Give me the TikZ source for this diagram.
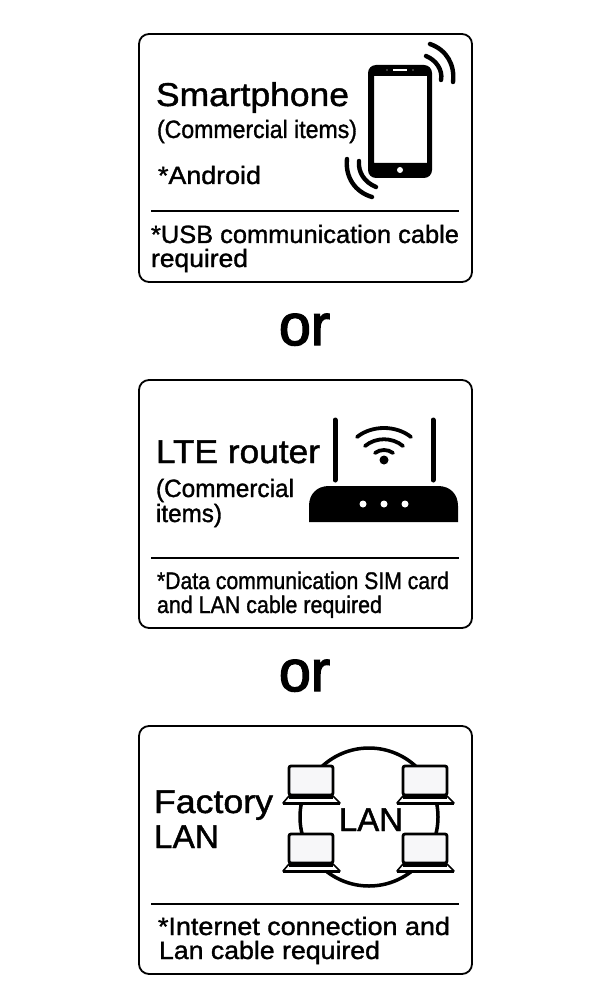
\documentclass[tikz,border=0pt]{standalone}
\usepackage{fontspec}
\usepackage{graphicx}
\setmainfont{Liberation Sans}[FakeBold=1.3]
\newfontfamily\orfont{Liberation Sans}[FakeBold=2.5]
\newcommand{\fitlabel}[2]{\resizebox{#1pt}{\height}{#2}}
\tikzset{
  panel/.style={draw, line width=1.8pt, rounded corners=10pt},
  rule/.style={line width=1.5pt},
  txt/.style={inner sep=0pt, outer sep=0pt, anchor=base west},
  big/.style={txt, font=\fontsize{33}{33}\selectfont},
  mid/.style={txt, font=\fontsize{25}{25}\selectfont},
  small/.style={txt, font=\fontsize{24}{24}\selectfont},
  wave/.style={line width=4.4pt, line cap=round},
  laptop/.pic={
    \draw[line width=2.8pt, fill=blue!20!black!3, rounded corners=2pt] (0,0) rectangle (44,29);
    \draw[line width=1.6pt, fill=white, line join=round] (0,30) -- (44,30) -- (51,37) -- (-6,37) -- cycle;
    \fill (-6,35.5) rectangle (51,38.5);
    \draw[line width=1.8pt] (0,32) -- (44,32);
  }
}
\begin{document}
\begin{tikzpicture}[x=1pt,y=-1pt]
  \useasboundingbox (0,0) rectangle (600,1008);
  % panels
  \draw[panel] (139,34) rectangle (472,282);
  \draw[panel] (139,380) rectangle (472,628);
  \draw[panel] (139,726) rectangle (472,974);
  \draw[rule] (151,211) -- (459,211);
  \draw[rule] (151,558) -- (459,558);
  \draw[rule] (151,904) -- (459,904);
  % smartphone
  \node[big] (phone) at (156,106) {\fitlabel{193}{Smartphone}};
  \node[mid] (phonenote) at (157,138) {\fitlabel{200}{(Commercial items)}};
  \node[mid] (android) at (158,184) {\fitlabel{103}{*Android}};
  \node[mid] (usb) at (151,243) {\fitlabel{308}{*USB communication cable}};
  \node[mid] (usbreq) at (151,267) {\fitlabel{97}{required}};
  \fill[rounded corners=8pt, even odd rule] (368,65) rectangle (432,178)
    [sharp corners] (374,76) rectangle (427,163);
  \fill[white] (400,170) circle (3);
  \draw[white, line width=1.2pt] (393,70) -- (407,70);
  \fill[white] (387,70) circle (0.7) (413,70) circle (0.7);
  \draw[wave] (430,44) .. controls (447,50) and (455,65) .. (453,82);
  \draw[wave] (426,56) .. controls (436,60) and (443,70) .. (441,80);
  \draw[wave] (347,159) .. controls (345,177) and (355,192) .. (372,197);
  \draw[wave] (359,161) .. controls (358,172) and (364,182) .. (376,187);
  % or
  \node[txt, font=\orfont\fontsize{58}{58}\selectfont] (orone) at (279,345) {\fitlabel{51}{or}};
  \node[txt, font=\orfont\fontsize{58}{58}\selectfont] (ortwo) at (279,691) {\fitlabel{51}{or}};
  % router
  \node[big] (router) at (156,463) {\fitlabel{164}{LTE router}};
  \node[mid] (routernote) at (156,497) {\fitlabel{138}{(Commercial}};
  \node[mid] (routeritems) at (156,522) {\fitlabel{66}{items)}};
  \node[small] (sim) at (157,589) {\fitlabel{292}{*Data communication SIM card}};
  \node[small] (lancable) at (157,613) {\fitlabel{225}{and LAN cable required}};
  \fill (309,522) -- (309,506) .. controls (309,494) and (317,486) .. (329,486)
    -- (438,486) .. controls (450,486) and (458,494) .. (458,506) -- (458,522) -- cycle;
  \draw[line width=5pt, line cap=round] (335,420) -- (335,480);
  \draw[line width=5pt, line cap=round] (433,420) -- (433,480);
  \fill[white] (363,504) circle (3.5) (384,504) circle (3.5) (405,504) circle (3.5);
  \fill (384,460) circle (4.5);
  \draw[wave, line width=3.8pt] (357,437) .. controls (372,425) and (396,425) .. (411,437);
  \draw[wave, line width=3.8pt] (365,446) .. controls (376,437) and (392,437) .. (403,446);
  \draw[wave, line width=3.8pt] (375,453) .. controls (380,449) and (388,449) .. (393,453);
  % factory lan
  \node[big] (factory) at (154,813) {\fitlabel{119}{Factory}};
  \node[big] (lan) at (154,848) {\fitlabel{65}{LAN}};
  \node[mid] (inet) at (158,935) {\fitlabel{292}{*Internet connection and}};
  \node[mid] (lanreq) at (159,959) {\fitlabel{221}{Lan cable required}};
  \draw[line width=3.5pt] (369,817) circle (69);
  \foreach \dx/\dy in {0/0,114/0,0/68,114/68}
    \pic at (289+\dx,766+\dy) {laptop};
  \node[big, font=\fontsize{33}{33}\selectfont, fill=white, inner sep=1pt] (ring) at (338,831) {\fitlabel{64}{LAN}};
\end{tikzpicture}
\end{document}
